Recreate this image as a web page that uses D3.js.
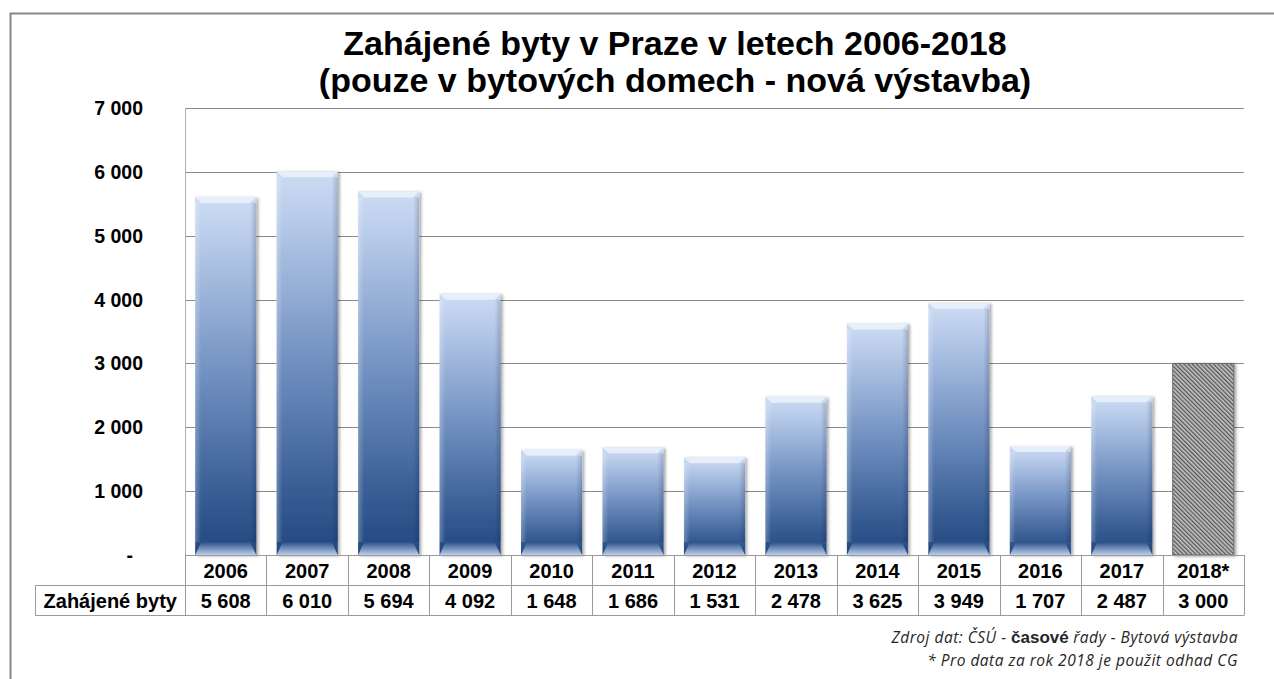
<!DOCTYPE html>
<html><head><meta charset="utf-8">
<script src="https://cdn.jsdelivr.net/npm/d3@7"></script>
<style>body{margin:0;background:#fff}svg{display:block}</style>
</head><body>
<svg id="c" width="1274" height="679"></svg>
<script>
const years = ["2006","2007","2008","2009","2010","2011","2012","2013","2014","2015","2016","2017","2018*"];
const values = [5608,6010,5694,4092,1648,1686,1531,2478,3625,3949,1707,2487,3000];
const estimated = [false,false,false,false,false,false,false,false,false,false,false,false,true];
const yTicks = [0,1000,2000,3000,4000,5000,6000,7000];
const titleLines = ["Zahájené byty v Praze v letech 2006-2018","(pouze v bytových domech - nová výstavba)"];
const rowLabel = "Zahájené byty";

const svg = d3.select("#c");
const fmt = v => v === 0 ? "-" : d3.format(",")(v).replace(/,/g, " ");
const W = 1274, H = 679;
const pLeft = 185, pRight = 1244, pTop = 108, pBottom = 555;
const x = d3.scaleBand().domain(years).range([pLeft, pRight]).paddingInner(0.25).paddingOuter(0.125);
const y = d3.scaleLinear().domain([0, 7000]).range([pBottom, pTop]);
const step = x.step();

const defs = svg.append("defs");
const g1 = defs.append("linearGradient").attr("id","barG").attr("x1",0).attr("y1",0).attr("x2",0).attr("y2",1);
[[0,"#cddcf3"],[0.12,"#b8cbea"],[0.5,"#7090c0"],[0.85,"#355a92"],[1,"#234880"]].forEach(s=>g1.append("stop").attr("offset",s[0]).attr("stop-color",s[1]));
const g2 = defs.append("linearGradient").attr("id","botG").attr("x1",0).attr("y1",0).attr("x2",0).attr("y2",1);
[[0,"#2a5189"],[1,"#bccdea"]].forEach(s=>g2.append("stop").attr("offset",s[0]).attr("stop-color",s[1]));
const g3 = defs.append("linearGradient").attr("id","sideL").attr("x1",0).attr("y1",0).attr("x2",1).attr("y2",0);
[[0,"rgba(255,255,255,0.25)"],[1,"rgba(255,255,255,0)"]].forEach(s=>g3.append("stop").attr("offset",s[0]).attr("stop-color",s[1]));
const g4 = defs.append("linearGradient").attr("id","sideR").attr("x1",0).attr("y1",0).attr("x2",1).attr("y2",0);
[[0,"rgba(0,0,30,0)"],[1,"rgba(0,0,30,0.18)"]].forEach(s=>g4.append("stop").attr("offset",s[0]).attr("stop-color",s[1]));
const pat = defs.append("pattern").attr("id","hatch").attr("patternUnits","userSpaceOnUse")
  .attr("width",3).attr("height",3).attr("patternTransform","rotate(-45)");
pat.append("rect").attr("width",3).attr("height",3).attr("fill","#c4c4c4");
pat.append("rect").attr("width",1.3).attr("height",3).attr("fill","#555");
const sh = defs.append("filter").attr("id","shadow").attr("x","-20%").attr("y","-5%").attr("width","140%").attr("height","110%");
sh.append("feDropShadow").attr("dx",2).attr("dy",1).attr("stdDeviation",1.5).attr("flood-color","#000").attr("flood-opacity",0.35);

// outer frame
svg.append("path").attr("d",`M${W},13.5 H10.5 V${H}`).attr("fill","none").attr("stroke","#878787").attr("stroke-width",2);

// title
svg.append("text").attr("text-anchor","middle")
  .attr("font-family","Liberation Sans, Arial, sans-serif").attr("font-weight","bold").attr("font-size",34).attr("fill","#000")
  .selectAll("tspan").data(titleLines).join("tspan").attr("x",675).attr("y",(d,i)=>55+i*37).text(d=>d);

// gridlines
svg.append("g").selectAll("line").data(yTicks.filter(t=>t>0)).join("line")
  .attr("x1",pLeft).attr("x2",pRight).attr("y1",d=>Math.round(y(d))+0.5).attr("y2",d=>Math.round(y(d))+0.5)
  .attr("stroke","#8c8c8c").attr("stroke-width",1);
svg.append("line").attr("x1",pLeft+0.5).attr("x2",pLeft+0.5).attr("y1",pTop).attr("y2",pBottom).attr("stroke","#b0b0b0");

// y labels
svg.append("g").selectAll("text").data(yTicks).join("text")
  .attr("x",d=>d===0?133:143).attr("y",d=>y(d)+7).attr("text-anchor","end")
  .attr("font-family","Liberation Sans, Arial, sans-serif").attr("font-weight","bold").attr("font-size",19.5)
  .text(fmt);

// bars
const bars = svg.append("g").selectAll("g").data(years.map((yr,i)=>({yr,v:values[i],est:estimated[i]}))).join("g");
bars.append("rect").attr("x",d=>x(d.yr)).attr("y",d=>y(d.v)).attr("width",x.bandwidth()).attr("height",d=>y(0)-y(d.v))
  .attr("fill",d=>d.est?"url(#hatch)":"url(#barG)").attr("filter","url(#shadow)")
  .attr("stroke",d=>d.est?"#6a6a6a":"none").attr("stroke-width",1);
const nb = bars.filter(d=>!d.est);
const bev = 6, bot = 13;
nb.append("path").attr("d",d=>{const x0=x(d.yr),x1=x0+x.bandwidth(),t=y(d.v);return `M${x0},${t}H${x1}L${x1-bev},${t+bev}H${x0+bev}Z`;})
  .attr("fill","#eaf1fc").attr("opacity",0.9);
nb.append("path").attr("d",d=>{const x0=x(d.yr),x1=x0+x.bandwidth(),b=y(0);return `M${x0},${b}H${x1}L${x1-bev},${b-bot}H${x0+bev}Z`;})
  .attr("fill","url(#botG)");
nb.append("rect").attr("x",d=>x(d.yr)).attr("y",d=>y(d.v)+bev).attr("width",bev).attr("height",d=>Math.max(0,y(0)-y(d.v)-bev-bot)).attr("fill","url(#sideL)");
nb.append("rect").attr("x",d=>x(d.yr)+x.bandwidth()-bev).attr("y",d=>y(d.v)+bev).attr("width",bev).attr("height",d=>Math.max(0,y(0)-y(d.v)-bev-bot)).attr("fill","url(#sideR)");

// data table
const r1t = pBottom, r1b = 585.5, r2b = 615.5, tl = 35.5;
const tg = svg.append("g").attr("stroke","#9a9a9a").attr("stroke-width",1).attr("fill","none");
tg.append("line").attr("x1",pLeft).attr("x2",pRight).attr("y1",r1t+0.5).attr("y2",r1t+0.5);
tg.append("line").attr("x1",tl).attr("x2",pRight).attr("y1",r1b).attr("y2",r1b);
tg.append("line").attr("x1",tl).attr("x2",pRight).attr("y1",r2b).attr("y2",r2b);
tg.append("line").attr("x1",tl).attr("x2",tl).attr("y1",r1b).attr("y2",r2b);
tg.selectAll("line.v").data(d3.range(years.length+1)).join("line").attr("class","v")
  .attr("x1",i=>Math.round(pLeft+i*step)+0.5).attr("x2",i=>Math.round(pLeft+i*step)+0.5)
  .attr("y1",r1t).attr("y2",r2b);

const tf = {"font-family":"Liberation Sans, Arial, sans-serif","font-weight":"bold","font-size":20};
const yearT = svg.append("g").selectAll("text").data(years).join("text")
  .attr("x",d=>x(d)+x.bandwidth()/2).attr("y",578).attr("text-anchor","middle").text(d=>d);
const valT = svg.append("g").selectAll("text").data(values).join("text")
  .attr("x",(d,i)=>x(years[i])+x.bandwidth()/2).attr("y",608).attr("text-anchor","middle").text(fmt);
const labT = svg.append("text").attr("x",tl+(pLeft-tl)/2).attr("y",608).attr("text-anchor","middle").text(rowLabel);
[yearT,valT,labT].forEach(s=>Object.entries(tf).forEach(([k,v])=>s.attr(k,v)));

// source
const src = svg.append("text").attr("x",1238).attr("y",643).attr("text-anchor","end")
  .attr("font-family","Open Sans, sans-serif").attr("font-style","italic").attr("font-size",15.5).attr("letter-spacing",0.5).attr("fill","#262626");
src.append("tspan").text("Zdroj dat: ČSÚ - ");
src.append("tspan").attr("font-style","normal").attr("font-weight","bold").attr("font-family","Liberation Sans, Arial, sans-serif").attr("font-size",17).attr("letter-spacing",0).text("časové");
src.append("tspan").text(" řady -  Bytová výstavba");
svg.append("text").attr("x",1238).attr("y",666).attr("text-anchor","end")
  .attr("font-family","Open Sans, sans-serif").attr("font-style","italic").attr("font-size",15.5).attr("letter-spacing",0.5).attr("fill","#262626")
  .text("* Pro data za rok 2018 je použit odhad CG");
</script>
</body></html>
